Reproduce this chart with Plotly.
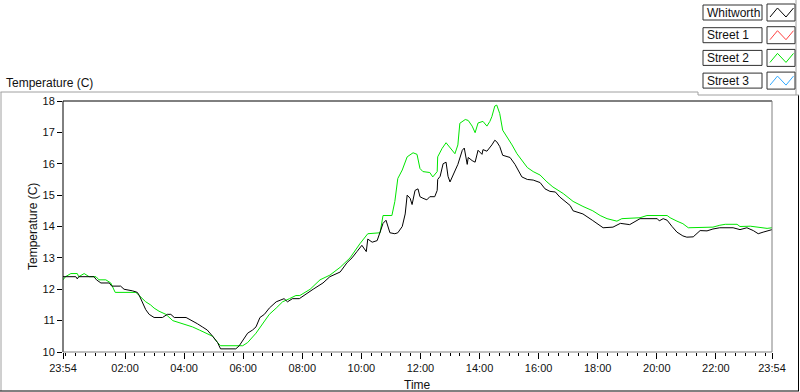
import pandas as pd
import plotly.graph_objects as go

# ---- data (minutes elapsed since 23:54, temperature in C) ----
start_time = "2016-01-01 23:54"
end_time = "2016-01-02 23:54"

whitworth_min = [0, 26, 29, 32, 53, 63, 68, 77, 94, 99, 117, 124, 141, 151, 155, 161, 168, 175, 185, 202,
                 212, 219, 226, 250, 263, 273, 283, 293, 304, 314, 320, 351, 358, 366, 375, 385, 392, 400,
                 409, 419, 433, 449, 456, 466, 480, 508, 528, 542, 563, 577, 587, 597, 607, 616, 619, 628,
                 638, 644, 650, 656, 664, 674, 680, 689, 695, 699, 705, 709, 715, 721, 725, 731, 739, 745,
                 755, 760, 761, 766, 772, 778, 782, 786, 796, 802, 811, 815, 821, 823, 831, 837, 843, 851,
                 853, 861, 871, 877, 881, 887, 893, 908, 918, 924, 932, 943, 955, 969, 979, 989, 1000, 1009,
                 1030, 1036, 1056, 1076, 1097, 1117, 1132, 1151, 1166, 1172, 1207, 1211, 1219, 1227, 1237,
                 1247, 1259, 1267, 1280, 1294, 1308, 1320, 1334, 1361, 1375, 1389, 1402, 1412, 1422, 1436, 1440]
whitworth_temp = [12.4, 12.4, 12.33, 12.4, 12.4, 12.4, 12.3, 12.2, 12.2, 12.1, 12.1, 12.0, 11.95, 11.9, 11.8,
                  11.6, 11.35, 11.2, 11.1, 11.1, 11.2, 11.2, 11.1, 11.1, 11.0, 10.9, 10.8, 10.7, 10.5, 10.3,
                  10.1, 10.1, 10.2, 10.4, 10.6, 10.7, 10.8, 11.1, 11.2, 11.4, 11.6, 11.7, 11.6, 11.7, 11.7,
                  12.0, 12.2, 12.4, 12.55, 12.85, 13.0, 13.2, 13.4, 13.2, 13.6, 13.5, 13.55, 13.82, 14.1, 14.2,
                  13.8, 13.77, 13.8, 14.0, 14.4, 15.0, 14.9, 14.7, 15.15, 15.2, 14.95, 14.9, 14.85, 14.95,
                  14.95, 15.15, 15.5, 15.6, 16.0, 16.05, 15.6, 15.42, 15.8, 15.98, 16.43, 16.5, 15.98, 16.2,
                  16.1, 16.05, 16.43, 16.3, 16.45, 16.4, 16.6, 16.75, 16.7, 16.55, 16.27, 16.2, 15.98, 15.8,
                  15.58, 15.5, 15.48, 15.4, 15.2, 15.12, 15.1, 14.94, 14.67, 14.5, 14.4, 14.19, 13.96, 13.98,
                  14.1, 14.06, 14.2, 14.25, 14.25, 14.18, 14.25, 14.2, 14.0, 13.82, 13.7, 13.66, 13.67, 13.87,
                  13.86, 13.92, 13.96, 13.96, 13.9, 13.96, 13.87, 13.77, 13.82, 13.87, 13.9]

street2_min = [0, 5, 16, 29, 32, 43, 53, 67, 73, 87, 97, 106, 148, 155, 161, 168, 178, 185, 195, 209, 223,
               243, 263, 277, 290, 304, 314, 320, 365, 375, 392, 406, 419, 433, 446, 460, 473, 481, 502, 522,
               542, 563, 583, 603, 619, 644, 650, 668, 674, 680, 689, 699, 705, 711, 719, 725, 731, 745, 751,
               760, 761, 770, 778, 786, 796, 802, 806, 817, 823, 831, 837, 843, 853, 861, 867, 871, 877, 881,
               887, 893, 902, 912, 922, 932, 943, 955, 969, 983, 995, 1016, 1036, 1056, 1076, 1091, 1105,
               1125, 1135, 1172, 1186, 1227, 1233, 1247, 1259, 1270, 1294, 1320, 1334, 1345, 1369, 1375,
               1396, 1416, 1430, 1440]
street2_temp = [12.3, 12.4, 12.5, 12.5, 12.4, 12.5, 12.4, 12.4, 12.3, 12.3, 12.2, 11.9, 11.9, 11.8, 11.7,
                11.6, 11.5, 11.4, 11.3, 11.2, 11.0, 10.9, 10.8, 10.7, 10.6, 10.5, 10.3, 10.2, 10.2, 10.3,
                10.6, 10.9, 11.2, 11.4, 11.6, 11.7, 11.8, 11.8, 12.0, 12.3, 12.45, 12.7, 13.0, 13.45, 13.77,
                13.8, 14.35, 14.35, 14.8, 15.53, 15.8, 16.22, 16.3, 16.35, 16.3, 15.85, 15.75, 15.72, 15.58,
                15.75, 16.22, 16.49, 16.67, 16.5, 16.32, 16.6, 17.29, 17.41, 17.38, 17.2, 16.99, 17.3, 17.35,
                17.2, 17.35, 17.5, 17.84, 17.87, 17.6, 17.07, 16.86, 16.6, 16.32, 16.1, 15.88, 15.75, 15.64,
                15.42, 15.26, 15.05, 14.8, 14.64, 14.5, 14.35, 14.25, 14.17, 14.25, 14.28, 14.35, 14.35,
                14.28, 14.17, 14.09, 13.96, 13.96, 13.98, 14.04, 14.07, 14.07, 14.0, 14.01, 13.96, 13.94, 13.96]

tick_labels = ["23:54", "02:00", "04:00", "06:00", "08:00", "10:00", "12:00",
               "14:00", "16:00", "18:00", "20:00", "22:00", "23:54"]
tick_times = [start_time] + ["2016-01-02 %s" % t for t in tick_labels[1:-1]] + [end_time]

legend_names = ["Whitworth", "Street 1", "Street 2", "Street 3"]
legend_colors = ["#000000", "#ff4040", "#00e600", "#33aaff"]

# ---- build ----
t0 = pd.Timestamp(start_time)
wx = t0 + pd.to_timedelta(whitworth_min, unit="m")
sx = t0 + pd.to_timedelta(street2_min, unit="m")

W, H = 800, 392
L, R, T, B = 63, 772, 101, 352
PW, PH = R - L, B - T


def px(x):
    return (x - L) / PW


def py(y):
    return (B - y) / PH


FONT = "Liberation Sans, Arial, sans-serif"
TXT = "#111111"

fig = go.Figure()
fig.add_trace(go.Scatter(x=sx, y=street2_temp, mode="lines", name="Street 2",
                         line=dict(color=legend_colors[2], width=1), showlegend=False))
fig.add_trace(go.Scatter(x=wx, y=whitworth_temp, mode="lines", name="Whitworth",
                         line=dict(color=legend_colors[0], width=1), showlegend=False))

shapes = []


def hline(x0, x1, y, color):
    shapes.append(dict(type="line", xref="paper", yref="paper", x0=px(x0), x1=px(x1),
                       y0=py(y), y1=py(y), line=dict(color=color, width=1), layer="above"))


def vline(x, y0, y1, color):
    shapes.append(dict(type="line", xref="paper", yref="paper", x0=px(x), x1=px(x),
                       y0=py(y0), y1=py(y1), line=dict(color=color, width=1), layer="above"))


# plot area border (sunken look)
hline(L, R, T, "#000000")
vline(L, T, B, "#000000")
hline(L, R, B, "#808080")
vline(R, T, B, "#808080")

# outer frame
hline(0.5, 698, 92, "#a0a0a0")
vline(1, 92, 391, "#a0a0a0")
hline(0, 799, 391, "#000000")
vline(798.5, 95, 391, "#000000")
vline(698, 92, 95, "#a0a0a0")
hline(698, 799, 95, "#a0a0a0")
vline(796, 0, 95, "#a0a0a0")

annotations = []
# legend boxes
for i, (name, col) in enumerate(zip(legend_names, legend_colors)):
    top = 5 + 22.7 * i
    shapes.append(dict(type="rect", xref="paper", yref="paper",
                       x0=px(703), x1=px(762), y0=py(top), y1=py(top + 15),
                       line=dict(color="#303030", width=1), fillcolor="white", layer="above"))
    shapes.append(dict(type="rect", xref="paper", yref="paper",
                       x0=px(767), x1=px(795), y0=py(top - 1), y1=py(top + 16),
                       line=dict(color="#303030", width=1), fillcolor="white", layer="above"))
    pts = [(770, top + 12), (777.5, top + 3), (786, top + 12), (793.5, top + 3)]
    path = "M " + " L ".join("%f,%f" % (px(a), py(b)) for a, b in pts)
    shapes.append(dict(type="path", xref="paper", yref="paper", path=path,
                       line=dict(color=col, width=1), layer="above"))
    annotations.append(dict(text=name, xref="paper", yref="paper", x=px(705), y=py(top + 7.5),
                            xanchor="left", yanchor="middle", showarrow=False,
                            font=dict(family=FONT, size=12, color=TXT)))

annotations.append(dict(text="Temperature (C)", xref="paper", yref="paper", x=px(4), y=py(83),
                        xanchor="left", yanchor="middle", showarrow=False,
                        font=dict(family=FONT, size=12, color=TXT)))
annotations.append(dict(text="Temperature (C)", xref="paper", yref="paper", x=px(33), y=py(227),
                        xanchor="center", yanchor="middle", textangle=-90, showarrow=False,
                        font=dict(family=FONT, size=12, color=TXT)))
annotations.append(dict(text="Time", xref="paper", yref="paper", x=px(417.5), y=py(385),
                        xanchor="center", yanchor="middle", showarrow=False,
                        font=dict(family=FONT, size=12, color=TXT)))

fig.update_layout(
    width=W, height=H,
    margin=dict(l=L, r=W - R, t=T, b=H - B, pad=0),
    paper_bgcolor="white", plot_bgcolor="white",
    showlegend=False,
    shapes=shapes, annotations=annotations,
    font=dict(family=FONT, size=11, color=TXT),
)
fig.update_xaxes(
    type="date", range=[start_time, end_time],
    tickvals=tick_times, ticktext=tick_labels,
    ticks="outside", ticklen=6, tickcolor="#000000", tickwidth=1,
    minor=dict(ticks="outside", ticklen=3, tickcolor="#000000", tickwidth=1,
               dtick=20 * 60 * 1000, tick0="2016-01-02 00:00", showgrid=False),
    showgrid=False, zeroline=False, showline=False,
    tickfont=dict(family=FONT, size=11, color=TXT),
)
fig.update_yaxes(
    range=[10, 18], tickvals=list(range(10, 19)),
    ticks="outside", ticklen=5, tickcolor="#000000", tickwidth=1,
    showgrid=False, zeroline=False, showline=False,
    tickfont=dict(family=FONT, size=11, color=TXT),
)

fig.write_html("out.html", config={"displayModeBar": False},
               post_script="document.body.style.margin='0';document.body.style.overflow='hidden';")
